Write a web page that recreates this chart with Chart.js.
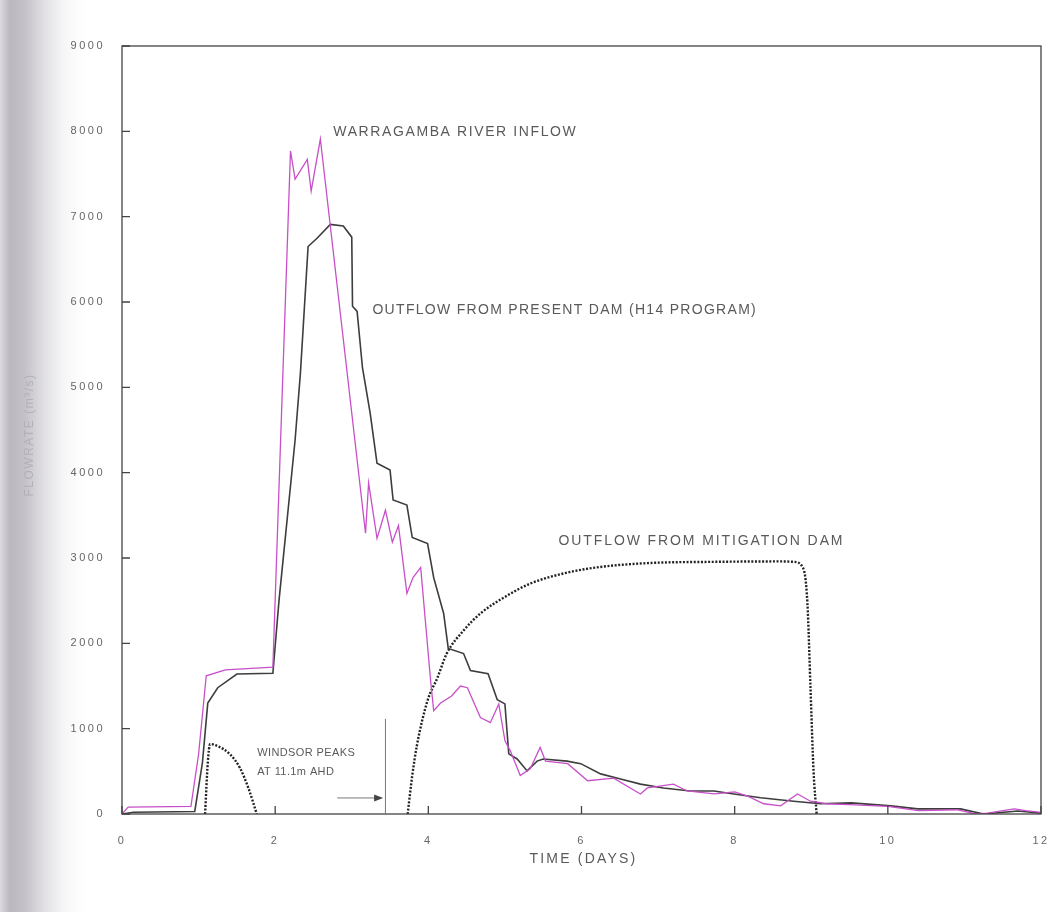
<!DOCTYPE html>
<html>
<head>
<meta charset="utf-8">
<script src="https://cdn.jsdelivr.net/npm/chart.js@4.4.1/dist/chart.umd.min.js"></script>
<style>
html,body{margin:0;padding:0}
body{width:1050px;height:912px;background:linear-gradient(to right,#dcdbdf 0px,#bab7be 10px,#c3c0c7 24px,#e0dfe3 44px,#f6f6f7 64px,#fff 85px)}
#wrap{width:1050px;height:912px;position:relative}
</style>
</head>
<body>
<div id="wrap"><canvas id="c"></canvas></div>
<script>
// axis ticks
const xTicks = [0,2,4,6,8,10,12];
const yTicks = [0,1000,2000,3000,4000,5000,6000,7000,8000,9000];

// Warragamba river inflow (m3/s) vs time (days)
const inflowDays = [0,0.08,0.9,1.0,1.1,1.35,1.97,2.2,2.26,2.42,2.47,2.59,3.18,3.22,3.33,3.44,3.53,3.61,3.72,3.8,3.9,4.03,4.07,4.16,4.3,4.42,4.51,4.68,4.81,4.92,5.0,5.07,5.2,5.33,5.46,5.53,5.82,6.08,6.42,6.77,6.86,7.2,7.38,7.73,8.0,8.17,8.38,8.6,8.82,8.99,9.2,9.5,10.0,10.4,10.9,11.15,11.3,11.65,11.8,12];
const inflowFlow = [0,80,90,700,1620,1690,1720,7770,7440,7670,7300,7910,3290,3880,3230,3560,3185,3380,2585,2770,2890,1560,1210,1300,1380,1500,1480,1130,1070,1290,860,740,450,530,780,620,590,390,420,235,305,350,270,235,260,210,120,95,235,150,120,110,90,40,50,0,10,60,40,20];

// outflow from present dam (H14 program)
const presentDays = [0,0.15,0.95,1.05,1.12,1.25,1.5,1.97,2.05,2.26,2.33,2.43,2.55,2.72,2.89,3.0,3.01,3.07,3.14,3.24,3.33,3.5,3.54,3.72,3.79,3.99,4.07,4.2,4.26,4.46,4.55,4.78,4.9,5.0,5.05,5.16,5.29,5.42,5.5,5.81,5.99,6.25,6.51,6.77,7.07,7.42,7.73,7.99,8.34,8.77,9.12,9.52,10.04,10.39,10.95,11.25,11.7,12];
const presentFlow = [0,20,30,600,1300,1480,1640,1650,2500,4380,5170,6650,6750,6910,6890,6760,5950,5890,5230,4700,4110,4030,3680,3620,3240,3170,2770,2350,1940,1880,1680,1645,1340,1290,705,645,505,620,645,620,590,470,410,350,305,270,270,235,190,150,120,130,95,60,60,0,35,10];

// outflow from mitigation dam (null = break in curve)
const mitigationDays = [1.085,1.12,1.15,1.24,1.41,1.54,1.65,1.76,2.5,3.73,3.79,3.85,3.99,4.12,4.24,4.46,4.68,5.03,5.33,5.77,6.2,6.86,7.73,8.6,8.77,8.89,8.95,8.99,9.03,9.07];
const mitigationFlow = [0,600,820,800,700,540,305,0,null,0,450,800,1330,1600,1880,2150,2350,2560,2700,2820,2890,2940,2955,2960,2955,2890,2470,1480,500,0];

const pts = (d, v) => d.map((x, i) => ({x: x, y: v[i]}));
const txtColor = '#5a5a5a';

function label(ctx, str, px, py, size, spacing, align){
  ctx.save();
  ctx.font = size + 'px "Liberation Sans", Arial, sans-serif';
  ctx.letterSpacing = spacing + 'px';
  ctx.fillStyle = txtColor;
  ctx.textAlign = align || 'left';
  ctx.textBaseline = 'middle';
  ctx.fillText(str, px, py);
  ctx.restore();
}

const decor = {
  id: 'decor',
  beforeDraw(ch){ ch.ctx.letterSpacing = '2.5px'; },
  afterDraw(ch){
    const {ctx, chartArea: a, scales: {x, y}} = ch;
    ctx.save();
    ctx.letterSpacing = '0px';
    ctx.strokeStyle = '#444';
    ctx.lineWidth = 1.3;
    ctx.strokeRect(a.left, a.top, a.right - a.left, a.bottom - a.top);
    ctx.beginPath();
    yTicks.forEach(v => { const p = y.getPixelForValue(v); ctx.moveTo(a.left, p); ctx.lineTo(a.left + 8, p); });
    xTicks.forEach(v => { const p = x.getPixelForValue(v); ctx.moveTo(p, a.bottom); ctx.lineTo(p, a.bottom - 8); });
    ctx.stroke();

    // windsor marker line + arrow
    ctx.strokeStyle = '#777';
    ctx.lineWidth = 1;
    ctx.beginPath();
    const vx = x.getPixelForValue(3.44);
    ctx.moveTo(vx, y.getPixelForValue(1115));
    ctx.lineTo(vx, y.getPixelForValue(0));
    const ay = y.getPixelForValue(188);
    const ax0 = x.getPixelForValue(2.81), ax1 = x.getPixelForValue(3.41);
    ctx.moveTo(ax0, ay); ctx.lineTo(ax1 - 6, ay);
    ctx.stroke();
    ctx.fillStyle = '#444';
    ctx.beginPath();
    ctx.moveTo(ax1, ay); ctx.lineTo(ax1 - 9, ay - 3.5); ctx.lineTo(ax1 - 9, ay + 3.5); ctx.closePath();
    ctx.fill();
    ctx.restore();

    label(ctx, 'WARRAGAMBA RIVER INFLOW', x.getPixelForValue(2.76), y.getPixelForValue(7990), 14, 1.6);
    label(ctx, 'OUTFLOW FROM PRESENT DAM (H14 PROGRAM)', x.getPixelForValue(3.27), y.getPixelForValue(5900), 14, 1.3);
    label(ctx, 'OUTFLOW FROM MITIGATION DAM', x.getPixelForValue(5.70), y.getPixelForValue(3196), 14, 1.9);
    label(ctx, 'WINDSOR PEAKS', x.getPixelForValue(1.765), y.getPixelForValue(717), 11, 0.4);
    label(ctx, 'AT 11.1m AHD', x.getPixelForValue(1.765), y.getPixelForValue(494), 11, 0.4);

    // axis titles
    label(ctx, 'TIME (DAYS)', (a.left + a.right) / 2 + 2, 859, 14, 2.2, 'center');
    ctx.save();
    ctx.translate(30, 435);
    ctx.rotate(-Math.PI / 2);
    ctx.font = '12px "Liberation Sans", Arial, sans-serif';
    ctx.letterSpacing = '1.5px';
    ctx.fillStyle = '#b3b0b8';
    ctx.textAlign = 'center';
    ctx.textBaseline = 'middle';
    ctx.fillText('FLOWRATE (m³/s)', 0, 0);
    ctx.restore();
  }
};

new Chart(document.getElementById('c'), {
  type: 'line',
  data: {
    datasets: [
      { label: 'Warragamba River Inflow', data: pts(inflowDays, inflowFlow), borderColor: '#c84fc9', borderWidth: 1.3, pointRadius: 0, tension: 0 },
      { label: 'Outflow from Present Dam', data: pts(presentDays, presentFlow), borderColor: '#3d3d3d', borderWidth: 1.6, pointRadius: 0, tension: 0 },
      { label: 'Outflow from Mitigation Dam', data: pts(mitigationDays, mitigationFlow), borderColor: '#222', borderWidth: 2.4, borderDash: [2, 1.6], pointRadius: 0, cubicInterpolationMode: 'monotone', spanGaps: false }
    ]
  },
  options: {
    responsive: true,
    maintainAspectRatio: false,
    animation: false,
    events: [],
    layout: { padding: { left: 0, right: 9, top: 46, bottom: 0 } },
    plugins: { legend: { display: false }, tooltip: { enabled: false } },
    scales: {
      x: {
        type: 'linear', min: 0, max: 12,
        afterBuildTicks: s => { s.ticks = xTicks.map(v => ({value: v})); },
        afterFit: s => { s.height = 98; s.paddingLeft = 0; s.paddingRight = 0; },
        grid: { display: false, drawTicks: false },
        border: { display: false },
        ticks: { padding: 20, color: '#666', font: { size: 11, family: '"Liberation Sans", Arial, sans-serif' }, maxRotation: 0, callback: v => String(v) }
      },
      y: {
        type: 'linear', min: 0, max: 9000,
        afterBuildTicks: s => { s.ticks = yTicks.map(v => ({value: v})); },
        afterFit: s => { s.width = 122; s.paddingTop = 0; s.paddingBottom = 0; },
        grid: { display: false, drawTicks: false },
        border: { display: false },
        ticks: { padding: 17, color: '#666', font: { size: 11, family: '"Liberation Sans", Arial, sans-serif' }, callback: v => String(v) }
      }
    }
  },
  plugins: [decor]
});
</script>
</body>
</html>
